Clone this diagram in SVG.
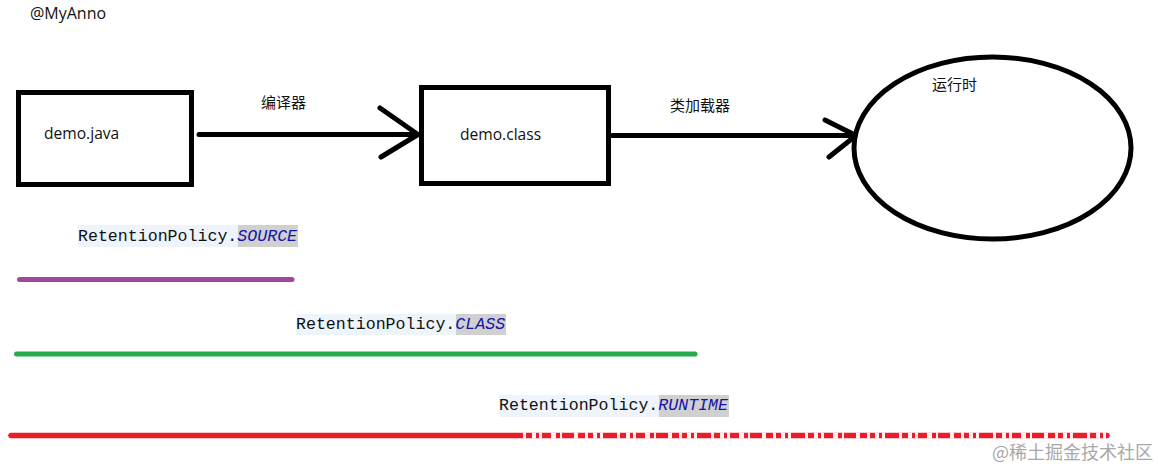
<svg xmlns="http://www.w3.org/2000/svg" width="1158" height="470" viewBox="0 0 1158 470">
<style>
.box{fill:#fff;stroke:#000;stroke-width:5}
.conn{fill:none;stroke:#000;stroke-width:5;stroke-linecap:round;stroke-linejoin:miter}
.t{font-family:"Open Sans","Noto Sans CJK SC",sans-serif;font-size:15.6px;fill:#111}
.c{font-family:"Noto Sans CJK SC","Open Sans",sans-serif;font-size:15px;fill:#111}
.m{font-family:"Liberation Mono","DejaVu Sans Mono",monospace;font-size:16.6px;fill:#111}
.k{font-style:italic;fill:#1414a8}
.bg{fill:#eef4fc}
.sel{fill:#d0d0d0}
.bar{fill:none;stroke-linecap:round}
</style>
<rect width="1158" height="470" fill="#fff"/>
<g id="anno"><text class="t" x="30" y="19" font-size="16" style="font-size:16px">@MyAnno</text></g>
<g id="connectors">
<path class="conn" d="M199 134.500H417M380 108L418 134.500L381 157"/>
<path class="conn" d="M612 135.500H856M825 120L856 135.500L829 157"/>
</g>
<g id="java"><rect class="box" x="18.500" y="92.500" width="173" height="92"/><text class="t" x="44" y="139">demo.java</text></g>
<g id="class"><rect class="box" x="421.500" y="87.500" width="187" height="96"/><text class="t" x="460" y="140">demo.class</text></g>
<g id="runtime"><ellipse cx="992.500" cy="148" rx="138.500" ry="91" fill="#fff" stroke="#000" stroke-width="5"/><text class="c" x="932" y="90">运行时</text></g>
<g id="label-compiler"><text class="c" x="261" y="108">编译器</text></g>
<g id="label-loader"><text class="c" x="670" y="111">类加载器</text></g>
<g id="source">
<rect class="bg" x="78" y="225" width="160" height="22"/><rect class="sel" x="238" y="225" width="60" height="22"/>
<text class="m" x="78" y="241">RetentionPolicy.<tspan class="k">SOURCE</tspan></text>
<path class="bar" d="M19.500 279.500H292" stroke="#a0489c" stroke-width="5"/>
</g>
<g id="class-policy">
<rect class="bg" x="296" y="314" width="160" height="21"/><rect class="sel" x="456" y="314" width="50" height="21"/>
<text class="m" x="296" y="329">RetentionPolicy.<tspan class="k">CLASS</tspan></text>
<path class="bar" d="M16.500 354H695" stroke="#22ac4c" stroke-width="5"/>
</g>
<g id="runtime-policy">
<rect class="bg" x="499" y="395" width="160" height="22"/><rect class="sel" x="659" y="395" width="70" height="22"/>
<text class="m" x="499" y="410">RetentionPolicy.<tspan class="k">RUNTIME</tspan></text>
<path class="bar" d="M11 435.500H1107" stroke="#ea1c28" stroke-width="5.500"/>
<path d="M523 435.500H1108" fill="none" stroke="#fff" stroke-width="6" stroke-dasharray="3 6 4 3 3 9 5 4 2 12 4 7 3 5 4 3 3 14" stroke-opacity=".95"/>
</g>
<g id="watermark"><text x="992" y="459" font-family="'Noto Sans CJK SC',sans-serif" font-size="18px" fill="#a8a8a8">@稀土掘金技术社区</text></g>
</svg>
